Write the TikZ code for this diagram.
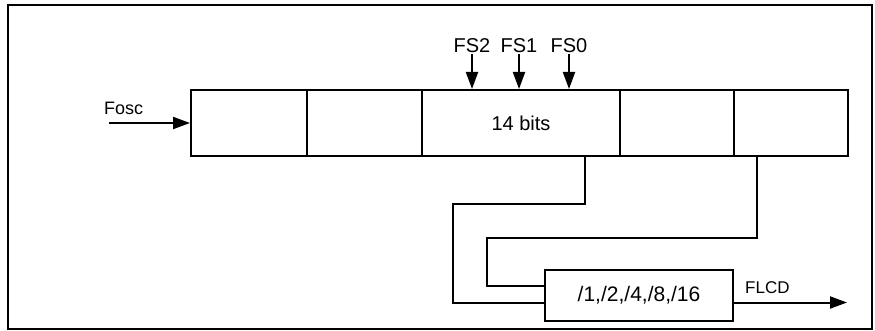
\documentclass[tikz,border=0pt]{standalone}
\usepackage{fontspec}
\setmainfont{Liberation Sans}
\usetikzlibrary{positioning,arrows.meta,calc}
\tikzset{
  wire/.style={line width=2pt},
  sig/.style={wire,-{Triangle[length=17pt,width=12pt]}},
  cell/.style={draw,line width=2pt,minimum height=66pt,inner sep=0pt},
  lbl/.style={font=\fontsize{18}{20}\selectfont,inner sep=1pt},
  frm/.style={line width=2.6pt},
}
\begin{document}
\begin{tikzpicture}[x=1pt,y=-1pt]
  \useasboundingbox (0,0) rectangle (875,331);
  \draw[frm] (8,5) rectangle (872,329);
  % counter stages
  \node[cell,minimum width=116pt] (c1) at (249,123) {};
  \node[cell,minimum width=115pt] (c2) at (364.5,123) {};
  \node[cell,minimum width=198pt,font=\fontsize{20}{22}\selectfont] (c3) at (521,123) {14 bits};
  \node[cell,minimum width=114pt] (c4) at (677,123) {};
  \node[cell,minimum width=114pt] (c5) at (791,123) {};
  % prescaler
  \node[cell,minimum width=188pt,minimum height=51pt,font=\fontsize{21}{23}\selectfont] (div) at (639,295.5) {/1,/2,/4,/8,/16};
  % inputs
  \node[lbl,anchor=south west] (fosc) at (103,116) {Fosc};
  \coordinate (in) at (109,123);
  \draw[sig] (in) -- (c1.west);
  \node[lbl,font=\fontsize{20}{22}\selectfont] (fs2) at (472,46) {FS2};
  \node[lbl,font=\fontsize{20}{22}\selectfont] (fs1) at (519,46) {FS1};
  \node[lbl,font=\fontsize{20}{22}\selectfont] (fs0) at (569,46) {FS0};
  \foreach \f in {fs2,fs1,fs0}
    \draw[sig] (\f.south) -- (\f |- c3.north);
  % taps to prescaler
  \coordinate (tap1) at (585,156);
  \coordinate (tap2) at (757,156);
  \draw[wire] (tap1) |- (453,204) |- ([yshift=-7pt]div.west);
  \draw[wire] (tap2) |- (487,238) |- ([yshift=9.5pt]div.west);
  % output
  \coordinate (out) at (847,302.5);
  \draw[sig] ([yshift=-7pt]div.east) -- (out);
  \node[lbl,font=\fontsize{17}{19}\selectfont,anchor=south west] (flcd) at (744,295) {FLCD};
\end{tikzpicture}
\end{document}
